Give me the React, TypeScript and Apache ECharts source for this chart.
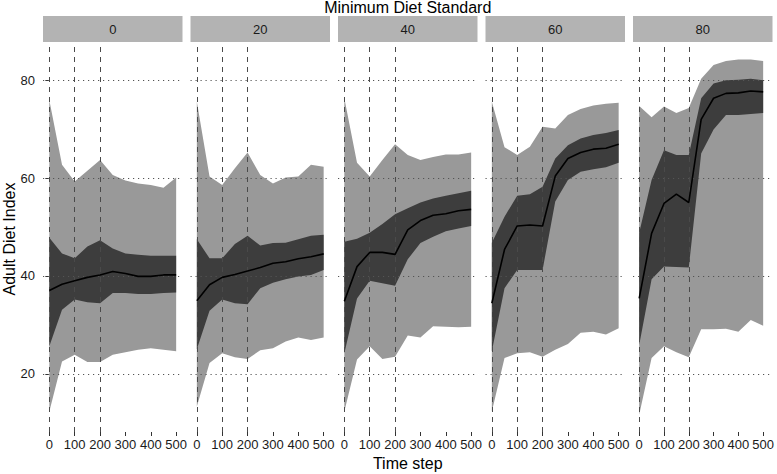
import React, { useEffect, useRef } from "react";
import * as echarts from "echarts";

const timeSteps = [0, 50, 100, 150, 200, 250, 300, 350, 400, 450, 500];
const standards = ["0", "20", "40", "60", "80"];
const xTickLabels = [0, 100, 200, 300, 400, 500];
const yTickLabels = [20, 40, 60, 80];
const dashedTimes = [0, 100, 200];

const outerHi = [
  [75.9, 62.7, 59.3, 61.5, 63.7, 60.6, 59.5, 58.9, 58.6, 58.0, 60.1],
  [75.6, 60.3, 58.6, 62.0, 65.2, 60.6, 58.9, 60.1, 60.3, 62.7, 62.3],
  [76.3, 63.1, 60.3, 63.7, 66.9, 64.7, 63.7, 64.3, 64.8, 64.8, 65.2],
  [75.6, 66.3, 64.7, 66.4, 70.5, 70.1, 72.9, 74.1, 74.8, 75.2, 75.4],
  [74.7, 72.4, 74.6, 73.3, 74.3, 80.3, 83.1, 83.9, 84.2, 84.2, 83.9],
];
const outerLo = [
  [12.3, 22.5, 23.9, 22.4, 22.4, 23.9, 24.4, 24.9, 25.2, 24.9, 24.6],
  [13.3, 22.2, 24.2, 23.4, 23.0, 24.8, 25.2, 26.6, 27.4, 26.9, 27.4],
  [12.3, 22.9, 25.6, 23.0, 23.5, 27.8, 27.4, 29.7, 29.6, 29.5, 29.6],
  [12.3, 23.2, 24.2, 24.4, 23.5, 24.9, 26.1, 28.4, 28.6, 28.0, 29.3],
  [11.6, 23.2, 25.6, 24.4, 23.4, 29.1, 29.1, 29.2, 28.6, 31.0, 29.8],
];
const innerHi = [
  [47.8, 44.6, 43.6, 46.0, 47.3, 45.6, 44.6, 44.3, 44.1, 44.1, 44.1],
  [47.5, 43.6, 43.6, 46.5, 48.2, 46.2, 46.7, 46.8, 47.5, 48.2, 48.4],
  [47.0, 47.6, 48.8, 50.6, 52.6, 53.8, 55.0, 55.8, 56.4, 56.9, 57.4],
  [46.8, 52.1, 56.4, 56.7, 58.2, 64.0, 66.7, 68.1, 68.8, 69.2, 69.8],
  [48.8, 59.6, 65.7, 64.7, 64.7, 76.3, 79.3, 80.0, 80.1, 80.3, 80.0],
];
const innerLo = [
  [25.6, 33.1, 35.2, 34.6, 34.4, 36.5, 36.5, 36.3, 36.3, 36.5, 36.6],
  [25.0, 32.9, 35.2, 34.4, 34.2, 37.5, 38.6, 39.3, 39.9, 40.2, 41.2],
  [24.2, 35.4, 39.0, 38.5, 38.0, 43.4, 46.7, 48.0, 49.1, 49.7, 50.2],
  [24.6, 37.5, 41.2, 41.2, 41.2, 55.2, 59.6, 61.3, 61.8, 62.2, 63.1],
  [25.9, 39.3, 41.9, 41.8, 41.7, 65.0, 69.9, 72.9, 72.9, 73.1, 73.3],
];
const median = [
  [37.0, 38.3, 39.0, 39.7, 40.2, 40.9, 40.5, 39.9, 39.9, 40.2, 40.2],
  [34.9, 38.2, 39.7, 40.3, 41.0, 41.7, 42.6, 42.9, 43.5, 43.9, 44.5],
  [34.8, 41.9, 44.8, 44.8, 44.4, 49.4, 51.3, 52.4, 52.7, 53.3, 53.6],
  [34.4, 45.4, 50.2, 50.4, 50.2, 60.4, 64.0, 65.2, 65.9, 66.1, 66.9],
  [35.4, 48.7, 54.8, 56.7, 55.0, 72.0, 76.3, 77.3, 77.4, 77.8, 77.6],
];

const FONT = "'Liberation Sans', Arial, Helvetica, sans-serif";
const PANEL_LEFT = 43;
const PANEL_PITCH = 147.5;
const PANEL_W = 139.5;
const PANEL_TOP = 42;
const PANEL_H = 390;
const STRIP_TOP = 16;

function bandSeries(i: number, hi: number[], lo: number[], color: string, z: number) {
  return {
    type: "custom",
    xAxisIndex: i,
    yAxisIndex: i,
    silent: true,
    animation: false,
    z,
    clip: false,
    data: [[timeSteps[0], hi[0]]],
    encode: { x: 0, y: 1 },
    renderItem: (params: any, api: any) => {
      const top = timeSteps.map((t, j) => api.coord([t, hi[j]]));
      const bottom = timeSteps.map((t, j) => api.coord([t, lo[j]])).reverse();
      return {
        type: "polygon",
        shape: { points: [...top, ...bottom] },
        style: { fill: color, stroke: null },
      };
    },
  };
}

export default function App() {
  const ref = useRef<HTMLDivElement>(null);
  useEffect(() => {
    if (!ref.current) return;
    const chart = echarts.init(ref.current, undefined, { renderer: "svg" });
    const grids: any[] = [];
    const xAxes: any[] = [];
    const yAxes: any[] = [];
    const series: any[] = [];
    const graphics: any[] = [];

    standards.forEach((std, i) => {
      const left = PANEL_LEFT + i * PANEL_PITCH;
      grids.push({ left, top: PANEL_TOP, width: PANEL_W, height: PANEL_H, containLabel: false });
      xAxes.push({
        type: "value",
        gridIndex: i,
        min: -25,
        max: 525,
        axisLine: { show: false },
        axisTick: { show: true, customValues: xTickLabels, length: 4, lineStyle: { color: "#333", width: 1 } },
        axisLabel: { show: true, customValues: xTickLabels, fontSize: 13, color: "#1a1a1a", fontFamily: FONT, margin: 6 },
        splitLine: { show: false },
      });
      yAxes.push({
        type: "value",
        gridIndex: i,
        min: 8.1,
        max: 87.8,
        axisLine: { show: false },
        axisTick: { show: i === 0, customValues: yTickLabels, length: 4, lineStyle: { color: "#333", width: 1 } },
        axisLabel: { show: i === 0, customValues: yTickLabels, fontSize: 13, color: "#1a1a1a", fontFamily: FONT, margin: 8 },
        splitLine: { show: false },
      });
      series.push(bandSeries(i, outerHi[i], outerLo[i], "#999999", 1));
      series.push(bandSeries(i, innerHi[i], innerLo[i], "#3d3d3d", 2));
      series.push({
        type: "line",
        xAxisIndex: i,
        yAxisIndex: i,
        symbol: "none",
        silent: true,
        animation: false,
        data: timeSteps.map((t, j) => [t, median[i][j]]),
        lineStyle: { color: "#000", width: 1.6 },
        z: 5,
        markLine: {
          silent: true,
          symbol: ["none", "none"],
          label: { show: false },
          animation: false,
          data: [
            ...yTickLabels.map((v) => ({ yAxis: v, lineStyle: { color: "#555", width: 1, type: [1.2, 3.8] } })),
            ...dashedTimes.map((v) => ({ xAxis: v, lineStyle: { color: "#4a4a4a", width: 1, type: [5, 5] } })),
          ],
        },
      });
      graphics.push({
        type: "rect",
        shape: { x: left, y: STRIP_TOP, width: PANEL_W, height: PANEL_TOP - STRIP_TOP },
        style: { fill: "#b3b3b3" },
        silent: true,
      });
      graphics.push({
        type: "text",
        x: left + PANEL_W / 2,
        y: (STRIP_TOP + PANEL_TOP) / 2,
        style: { text: std, fill: "#1a1a1a", font: `13px ${FONT}`, textAlign: "center", textVerticalAlign: "middle" },
        silent: true,
      });
    });

    const plotCenter = PANEL_LEFT + (4 * PANEL_PITCH + PANEL_W) / 2;
    graphics.push({
      type: "text",
      x: plotCenter,
      y: 7,
      style: { text: "Minimum Diet Standard", fill: "#000", font: `16px ${FONT}`, textAlign: "center", textVerticalAlign: "middle" },
      silent: true,
    });
    graphics.push({
      type: "text",
      x: plotCenter,
      y: 463,
      style: { text: "Time step", fill: "#000", font: `16px ${FONT}`, textAlign: "center", textVerticalAlign: "middle" },
      silent: true,
    });
    graphics.push({
      type: "text",
      x: 9,
      y: 239,
      rotation: Math.PI / 2,
      style: { text: "Adult Diet Index", fill: "#000", font: `16px ${FONT}`, textAlign: "center", textVerticalAlign: "middle" },
      silent: true,
    });

    chart.setOption({
      animation: false,
      backgroundColor: "#ffffff",
      grid: grids,
      xAxis: xAxes,
      yAxis: yAxes,
      series,
      graphic: graphics,
    });
    return () => chart.dispose();
  }, []);
  return <div ref={ref} style={{ position: "fixed", left: 0, top: 0, width: 777, height: 474 }} />;
}
